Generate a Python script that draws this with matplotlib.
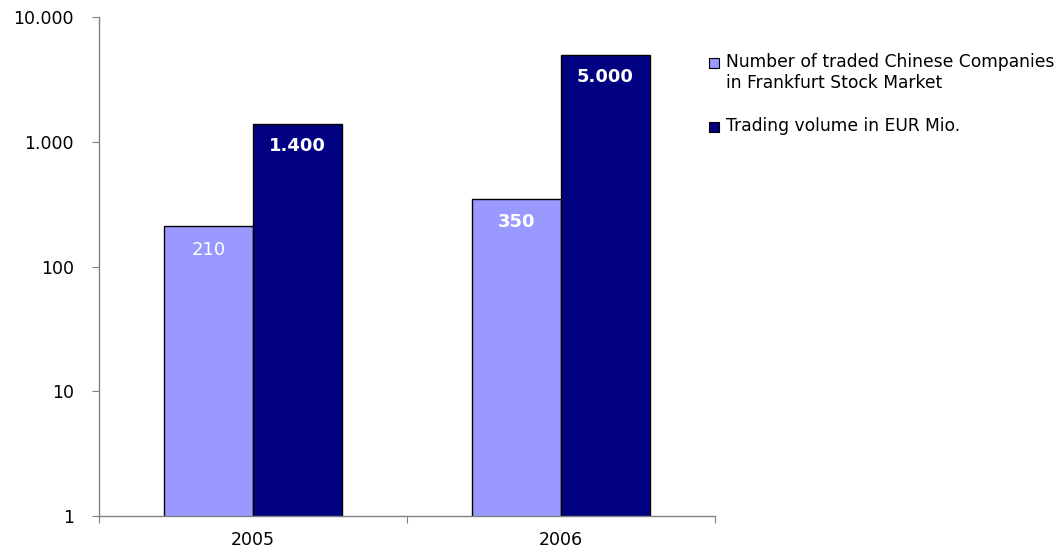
import matplotlib
matplotlib.use("Agg")
import matplotlib.pyplot as plt
from matplotlib.patches import Rectangle
from matplotlib.ticker import FixedLocator, NullFormatter
import numpy as np

years = ["2005", "2006"]
companies = [210, 350]
volume = [1400, 5000]
company_labels = ["210", "350"]
company_bold = [False, True]
volume_labels = ["1.400", "5.000"]
series_names = ["Number of traded Chinese Companies\nin Frankfurt Stock Market",
                "Trading volume in EUR Mio."]
ytick_vals = [1, 10, 100, 1000, 10000]
ytick_labels = ["1", "10", "100", "1.000", "10.000"]

LIGHT = "#9999FF"
DARK = "#000080"
GRAY = "#808080"

W, H = 1061, 557
fig = plt.figure(figsize=(W / 100, H / 100), dpi=100)
ax = fig.add_axes([99 / W, 1 - 516 / H, (715 - 99) / W, (516 - 17) / H])

x = np.arange(len(years))
bw = 0.289
b1 = ax.bar(x - bw / 2, companies, bw, color=LIGHT, edgecolor="black", linewidth=1.0)
b2 = ax.bar(x + bw / 2, volume, bw, color=DARK, edgecolor="black", linewidth=1.0)

ax.set_yscale("log")
ax.set_ylim(1, 10000)
ax.set_xlim(-0.5, len(years) - 0.5)

ax.yaxis.set_major_locator(FixedLocator(ytick_vals))
ax.set_yticklabels(ytick_labels)
ax.yaxis.set_minor_formatter(NullFormatter())
ax.tick_params(axis="y", which="minor", length=0)
ax.tick_params(axis="y", which="major", direction="out", length=5, color=GRAY,
               labelsize=12.5, pad=13)

ax.set_xticks(np.arange(-0.5, len(years), 1.0))
ax.set_xticklabels([])
ax.set_xticks(x, minor=True)
ax.set_xticklabels(years, minor=True)
ax.tick_params(axis="x", which="major", direction="out", length=5, color=GRAY)
ax.tick_params(axis="x", which="minor", length=0, labelsize=12.5, pad=11)

for s in ["top", "right"]:
    ax.spines[s].set_visible(False)
for s in ["left", "bottom"]:
    ax.spines[s].set_color(GRAY)
    ax.spines[s].set_linewidth(1.0)

for rect, lab, bold in zip(b1, company_labels, company_bold):
    ax.annotate(lab, (rect.get_x() + rect.get_width() / 2, rect.get_height()),
                xytext=(0, -17), textcoords="offset points", ha="center", va="center",
                color="white", fontsize=13, fontweight="bold" if bold else "normal")
for rect, lab in zip(b2, volume_labels):
    ax.annotate(lab, (rect.get_x() + rect.get_width() / 2, rect.get_height()),
                xytext=(0, -16), textcoords="offset points", ha="center", va="center",
                color="white", fontsize=13, fontweight="bold")

# legend
legend_items = [(series_names[0], LIGHT, 63), (series_names[1], DARK, 127)]
for name, col, yc in legend_items:
    fig.add_artist(Rectangle((709 / W, 1 - (yc + 5) / H), 10 / W, 10 / H,
                             transform=fig.transFigure, facecolor=col,
                             edgecolor="black", linewidth=0.8))
    fig.text(726 / W, 1 - (yc - 10) / H, name, ha="left", va="top", fontsize=12.3,
             linespacing=1.25)

fig.savefig("out.png", dpi=100)
